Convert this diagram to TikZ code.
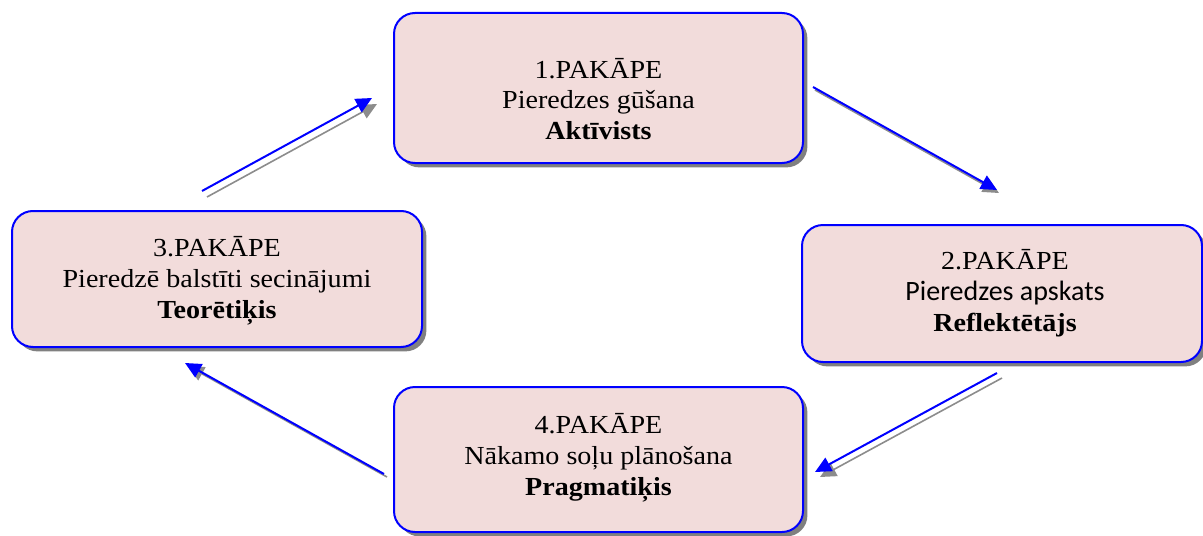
\documentclass[tikz,border=0pt]{standalone}
\usepackage{fontspec}
\setmainfont[FakeStretch=1.08]{Liberation Serif}
\newfontfamily\calibrifont{Carlito}
\usetikzlibrary{shadows,arrows.meta}
\definecolor{stagepink}{RGB}{242,220,219}

\begin{document}
\begin{tikzpicture}[x=0.5pt,y=-0.5pt,
  stage/.style={draw=blue,line width=1pt,fill=stagepink,rounded corners=10.5pt,
    general shadow={shadow xshift=2.2pt,shadow yshift=-2.2pt,fill=black!50}},
  stagetext/.style={align=center,inner sep=0pt,font=\fontsize{13}{15.4}\selectfont},
  flow/.style={blue,line width=1pt,-{Triangle[length=8pt,width=7.5pt]}},
  flowshade/.style={black!45,line width=0.8pt,-{Triangle[length=8pt,width=7.5pt]}}]
  \useasboundingbox (0,0) rectangle (1203,535);
  % stages
  \node[stage,minimum width=204.5pt,minimum height=75pt] (s1) at (598.5,88) {};
  \node[stage,minimum width=200pt,minimum height=68.5pt] (s2) at (1002,293.5) {};
  \node[stage,minimum width=205pt,minimum height=68pt] (s3) at (217,279) {};
  \node[stage,minimum width=204.5pt,minimum height=72.5pt] (s4) at (598.5,459.5) {};
  \node[stagetext] (t1) at (598.5,99) {1.PAKĀPE\\Pieredzes gūšana\\\textbf{Aktīvists}};
  \node[stagetext] (t2) at (1005,293) {2.PAKĀPE\\{\calibrifont\fontsize{14}{15.4}\selectfont Pieredzes apskats}\\\textbf{Reflektētājs}};
  \node[stagetext] (t3) at (217,281) {3.PAKĀPE\\Pieredzē balstīti secinājumi\\\textbf{Teorētiķis}};
  \node[stagetext] (t4) at (598.5,458) {4.PAKĀPE\\Nākamo soļu plānošana\\\textbf{Pragmatiķis}};
  % arrow ends
  \coordinate (a1) at (813,87);  \coordinate (b1) at (997,190);
  \coordinate (a2) at (997,373); \coordinate (b2) at (815,472);
  \coordinate (a3) at (384,474); \coordinate (b3) at (185,363);
  \coordinate (a4) at (202,191); \coordinate (b4) at (372,98);
  % cycle arrows with their shadows
  \draw[flowshade] ([shift={(2,3)}]a1) -- ([shift={(2,3)}]b1);
  \draw[flow] (a1) -- (b1);
  \draw[flowshade] ([shift={(5,5)}]a2) -- ([shift={(5,5)}]b2);
  \draw[flow] (a2) -- (b2);
  \draw[flowshade] ([shift={(3,3)}]a3) -- ([shift={(3,3)}]b3);
  \draw[flow] (a3) -- (b3);
  \draw[flowshade] ([shift={(5,6)}]a4) -- ([shift={(5,6)}]b4);
  \draw[flow] (a4) -- (b4);
\end{tikzpicture}
\end{document}
